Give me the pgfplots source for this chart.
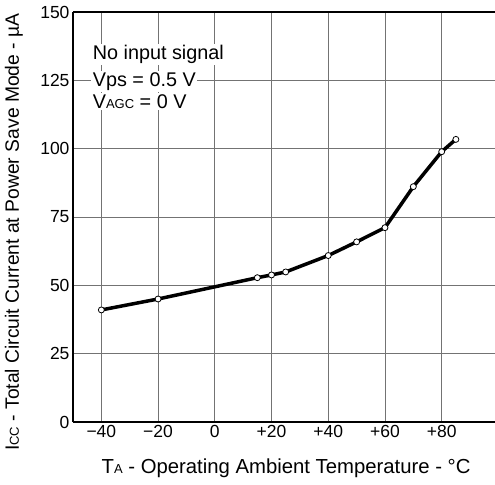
\documentclass[border=0pt]{standalone}
\usepackage{fontspec}
\setmainfont{Liberation Sans}
\usepackage{pgfplots}
\pgfplotsset{compat=1.18}

\newcommand{\sub}[1]{{\fontsize{13bp}{13bp}\selectfont #1}}

\begin{document}
\begin{tikzpicture}
\useasboundingbox (-73bp,-63bp) rectangle (422bp,422bp);
\begin{axis}[
  at={(0,0)}, anchor=south west,
  scale only axis,
  width=422bp, height=410bp,
  xmin=-50, xmax=98.8,
  ymin=0, ymax=150,
  xtick={-40,-20,0,20,40,60,80},
  xticklabels={−40,−20,0,+20,+40,+60,+80},
  ytick={0,25,50,75,100,125,150},
  yticklabels={0,25,50,75,100,125,150},
  axis x line*=box,
  axis y line*=left,
  axis line style={line width=2bp},
  major tick length=0pt,
  grid=major,
  major grid style={black!55, line width=0.9bp},
  tick label style={font=\fontsize{17.5bp}{20bp}\selectfont},
  xlabel={T\sub{A} - Operating Ambient Temperature - °C},
  xlabel style={font=\fontsize{20.3bp}{22bp}\selectfont,
    at={(axis description cs:0.505,-0.08)}, anchor=north},
  ylabel={I\sub{CC} - Total Circuit Current at Power Save Mode - µA},
  ylabel style={font=\fontsize{19.3bp}{22bp}\selectfont,
    at={(axis description cs:-0.14,0.463)}, anchor=center, rotate=0},
]
\addplot[line width=3.5bp, black, mark=*, mark size=3bp,
  mark options={fill=white, draw=black, line width=0.8bp}]
  coordinates {(-40,41.0) (-20,45.0) (15,52.8) (20,53.8) (25,54.9) (40,60.9)
               (50,65.9) (60,71.1) (70,86.1) (80,98.9) (85,103.4)};
\begin{scope}[every node/.style={anchor=base west, fill=white, inner sep=1.5bp,
    font=\fontsize{19.8bp}{22bp}\selectfont}]
\node at (axis cs:-43.6,132.5) {No input signal};
\node at (axis cs:-43.6,122.8) {Vps = 0.5 V};
\node at (axis cs:-43.6,114.6) {V\sub{AGC} = 0 V};
\end{scope}
\end{axis}
\end{tikzpicture}
\end{document}
